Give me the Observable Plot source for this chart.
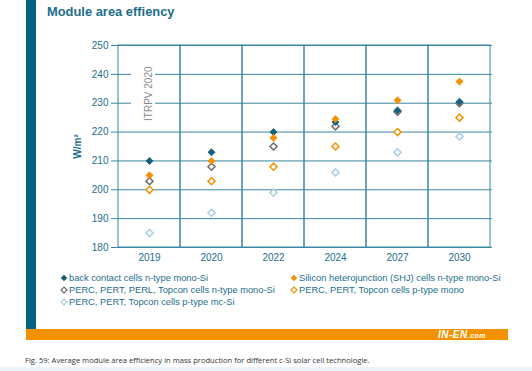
<!DOCTYPE html>
<html>
<head>
<meta charset="utf-8">
<script src="https://cdn.jsdelivr.net/npm/d3@7"></script>
<script src="https://cdn.jsdelivr.net/npm/@observablehq/plot@0.6"></script>
<style>
  html, body { margin: 0; padding: 0; background: #fff; }
  #page { position: relative; width: 532px; height: 371px; overflow: hidden; font-family: "Liberation Sans", Arial, sans-serif; }
  #bar { position: absolute; left: 26px; top: 0; width: 10px; height: 329px; background: #00627f; }
  #title { position: absolute; left: 47px; top: 4px; font-size: 12.9px; font-weight: bold; color: #1d6e8c; }
  #chart { position: absolute; left: 0; top: 30px; }
  #legend { position: absolute; left: 60px; top: 273px; width: 460px; font-size: 9.3px; color: #1d6e8c; }
  .item { position: absolute; white-space: nowrap; }
  .item svg { vertical-align: -1px; margin-right: 1px; }
  #band { position: absolute; left: 26px; top: 329px; width: 482px; height: 11px; background: #f39200; }
  #logo { position: absolute; left: 412px; top: 0px; line-height: 11px; color: #fff; font-weight: bold; font-style: italic; font-size: 10px; letter-spacing: 0.5px; }
  #logo small { font-size: 7px; }
  #caption { position: absolute; left: 25px; top: 355px; font-family: "Open Sans", sans-serif; font-size: 7.6px; color: #333; }
  #foot { position: absolute; left: 0; top: 367px; width: 532px; height: 4px; background: #eef5fa; }
  #chart svg [aria-label="y-axis label"] text { font-weight: bold; }
</style>
</head>
<body>
<div id="page">
  <div id="bar"></div>
  <div id="title">Module area effiency</div>
  <div id="chart"></div>
  <div id="legend"></div>
  <div id="band"><div id="logo">IN-EN<small>.com</small></div></div>
  <div id="caption">Fig. 59: Average module area efficiency in mass production for different c-Si solar cell technologie.</div>
  <div id="foot"></div>
</div>
<script>
// ---- data ----
const years = ["2019", "2020", "2022", "2024", "2027", "2030"];
const seriesNames = [
  "back contact cells n-type mono-Si",
  "Silicon heterojunction (SHJ) cells n-type mono-Si",
  "PERC, PERT, PERL, Topcon cells n-type mono-Si",
  "PERC, PERT, Topcon cells p-type mono",
  "PERC, PERT, Topcon cells p-type mc-Si"
];
const backContact = [210, 213, 220, 223.5, 227.5, 230.5];
const shj         = [205, 210, 218, 224.5, 231, 237.5];
const perlN       = [203, 208, 215, 222, 227, 230];
const percPMono   = [200, 203, 208, 215, 220, 225];
const percPMc     = [185, 192, 199, 206, 213, 218.5];
const yTicks = [180, 190, 200, 210, 220, 230, 240, 250];
const annotation = "ITRPV 2020";
const annotationYear = "2019";
const annotationSpan = [224.5, 243];
const annotationMid = 233.3;

// ---- styles ----
const colors = ["#13607a", "#f39200", "#6e6e6e", "#f39200", "#a9cde3"];
const filled = [true, true, false, false, false];
const gridColor = "#3a86a0";
const textColor = "#1d6e8c";

const allValues = [backContact, shj, perlN, percPMono, percPMc];
const points = [];
// draw order: hollow first, filled on top (mc, p mono, n, BC, SHJ)
[4, 3, 2, 0, 1].forEach(s => {
  years.forEach((yr, i) => points.push({year: yr, value: allValues[s][i], s}));
});

const plot = Plot.plot({
  width: 532,
  height: 240,
  marginLeft: 115,
  marginRight: 40,
  marginTop: 15,
  marginBottom: 23,
  style: {fontFamily: "Liberation Sans, Arial, sans-serif", color: textColor, background: "transparent"},
  x: {type: "band", domain: years, padding: 0},
  y: {domain: [180, 250]},
  marks: [
    Plot.gridY(yTicks, {stroke: gridColor, strokeOpacity: 1, strokeWidth: 1}),
    Plot.barY(years, {x: d => d, y1: 180, y2: 250, fill: "none", stroke: gridColor, strokeWidth: 1}),
    Plot.barY([annotationYear], {x: d => d, y1: annotationSpan[0], y2: annotationSpan[1], fill: "white", insetLeft: 13, insetRight: 25}),
    Plot.text([annotation], {x: () => annotationYear, y: () => annotationMid, text: d => d, rotate: -90, fill: "#8a8a8a", fontSize: 10, dx: -1}),
    Plot.axisY(yTicks, {tickSize: 4, tickPadding: 3, fontSize: 10, stroke: gridColor, fill: textColor, label: "W/m²", labelAnchor: "center", labelArrow: "none", labelOffset: 42}),
    Plot.axisX(years, {tickSize: 0, tickPadding: 6, fontSize: 10, fill: textColor, label: null}),
    Plot.dot(points, {
      x: "year", y: "value", symbol: "diamond2", r: 3.2,
      fill: d => filled[d.s] ? colors[d.s] : "white",
      stroke: d => colors[d.s],
      strokeWidth: d => filled[d.s] ? 0.8 : 1.5
    })
  ]
});
document.getElementById("chart").appendChild(plot);

// legend
const legendPos = [[0, 0], [230, 0], [0, 12], [230, 12], [0, 24]];
const legend = document.getElementById("legend");
seriesNames.forEach((name, i) => {
  const div = document.createElement("div");
  div.className = "item";
  div.style.left = legendPos[i][0] + "px";
  div.style.top = legendPos[i][1] + "px";
  const f = filled[i] ? colors[i] : "white";
  div.innerHTML = `<svg width="8" height="8" viewBox="-4 -4 8 8"><path d="M0,-3L3,0L0,3L-3,0Z" fill="${f}" stroke="${colors[i]}" stroke-width="${filled[i] ? 0.5 : 1.2}"/></svg>${name}`;
  legend.appendChild(div);
});
</script>
</body>
</html>
